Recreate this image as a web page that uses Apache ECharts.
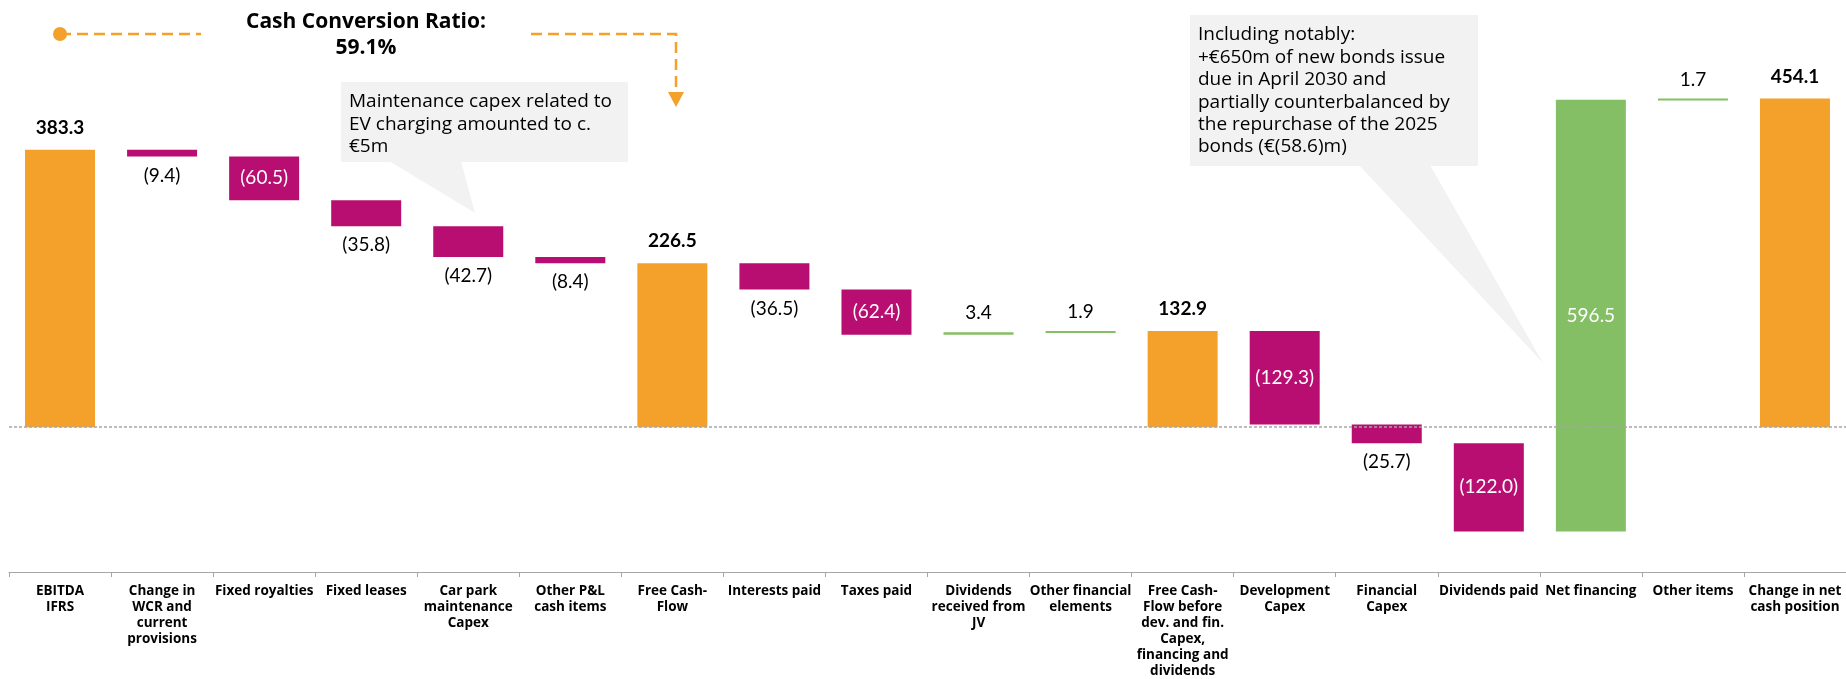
<!DOCTYPE html>
<html>
<head>
<meta charset="utf-8">
<title>Cash flow bridge</title>
<script src="https://cdn.jsdelivr.net/npm/echarts@6/dist/echarts.min.js"></script>
<style>
  html, body { margin: 0; padding: 0; background: #fff; }
  #chart { width: 1846px; height: 679px; }
</style>
</head>
<body>
<div id="chart"></div>
<script>
// categories (x axis)
const categories = [
  "EBITDA\nIFRS",
  "Change in\nWCR and\ncurrent\nprovisions",
  "Fixed royalties",
  "Fixed leases",
  "Car park\nmaintenance\nCapex",
  "Other P&L\ncash items",
  "Free Cash-\nFlow",
  "Interests paid",
  "Taxes paid",
  "Dividends\nreceived from\nJV",
  "Other financial\nelements",
  "Free Cash-\nFlow before\ndev. and fin.\nCapex,\nfinancing and\ndividends",
  "Development\nCapex",
  "Financial\nCapex",
  "Dividends paid",
  "Net financing",
  "Other items",
  "Change in net\ncash position"
];
// movement values (€m); totals are the subtotal levels
const values = [383.3, -9.4, -60.5, -35.8, -42.7, -8.4, 226.5, -36.5, -62.4, 3.4, 1.9, 132.9, -129.3, -25.7, -122.0, 596.5, 1.7, 454.1];
// which bars are subtotals (orange)
const totalIdx = [0, 6, 11, 17];

const ORANGE = "#F4A12B";
const MAGENTA = "#B90E71";
const GREEN = "#84BF65";
const NUM_FONT = "Lato";
const TXT_FONT = "Open Sans";

// build floating bars: [index, start, end, value, kind]
let running = 0;
const bars = values.map(function (v, i) {
  let lo, hi, kind;
  if (totalIdx.indexOf(i) >= 0) {
    lo = 0; hi = v; running = v; kind = 0;
  } else {
    lo = running; hi = running + v; running = hi; kind = v < 0 ? 1 : 2;
  }
  return [i, lo, hi, v, kind];
});

function fmt(v) {
  return v < 0 ? "(" + Math.abs(v).toFixed(1) + ")" : v.toFixed(1);
}

function renderItem(params, api) {
  const i = api.value(0);
  const lo = api.value(1);
  const hi = api.value(2);
  const v = api.value(3);
  const kind = api.value(4);
  const a = api.coord([i, Math.max(lo, hi)]);
  const b = api.coord([i, Math.min(lo, hi)]);
  const w = api.size([1, 0])[0] * 0.686;
  const color = kind === 0 ? ORANGE : (kind === 1 ? MAGENTA : GREEN);
  const top = a[1], bottom = b[1];

  // label placement
  let ty, fill = "#000", weight = "normal";
  if (kind === 0) {
    ty = top - 22; weight = "bold";
  } else if (Math.abs(v) >= 50) {
    ty = (top + bottom) / 2; fill = "#fff";
  } else if (v < 0) {
    ty = bottom + 19;
  } else {
    ty = top - 19;
  }

  return {
    type: "group",
    children: [
      {
        type: "rect",
        shape: { x: a[0] - w / 2, y: top, width: w, height: Math.max(bottom - top, 2) },
        style: { fill: color }
      },
      {
        type: "text",
        x: a[0],
        y: ty,
        style: {
          text: fmt(v),
          fill: fill,
          fontSize: 19,
          fontWeight: weight,
          fontFamily: NUM_FONT,
          align: "center",
          verticalAlign: "middle"
        }
      }
    ]
  };
}

const chart = echarts.init(document.getElementById("chart"));

chart.setOption({
  animation: false,
  grid: { left: 9, width: 1849, top: 0, bottom: 107 },
  xAxis: {
    type: "category",
    data: categories,
    axisLine: { onZero: false, lineStyle: { color: "#A6A6A6", width: 1 } },
    axisTick: { show: true, length: 5, lineStyle: { color: "#A6A6A6" } },
    axisLabel: {
      interval: 0,
      color: "#000",
      fontFamily: TXT_FONT,
      fontWeight: "bold",
      fontSize: 13.5,
      lineHeight: 16,
      margin: 11
    }
  },
  yAxis: {
    type: "value",
    min: -200,
    max: 590,
    show: false
  },
  series: [
    {
      type: "custom",
      renderItem: renderItem,
      data: bars,
      encode: { x: 0, y: [1, 2] },
      clip: false,
      markLine: {
        silent: true,
        symbol: "none",
        label: { show: false },
        lineStyle: { color: "#A6A6A6", type: [3, 2], width: 1.5 },
        data: [{ yAxis: 0 }]
      }
    }
  ],
  // annotations
  graphic: [
    { type: "circle", shape: { cx: 60, cy: 34, r: 7 }, style: { fill: ORANGE } },
    {
      type: "polyline",
      shape: { points: [[60, 34], [201, 34]] },
      style: { stroke: ORANGE, lineWidth: 2.5, lineDash: [11, 6], fill: null }
    },
    {
      type: "polyline",
      shape: { points: [[531, 34], [676, 34], [676, 93]] },
      style: { stroke: ORANGE, lineWidth: 2.5, lineDash: [11, 6], fill: null }
    },
    {
      type: "polygon",
      shape: { points: [[668, 92], [684, 92], [676, 107]] },
      style: { fill: ORANGE }
    },
    {
      type: "text",
      x: 366,
      y: 35,
      style: {
        text: "Cash Conversion Ratio:\n59.1%",
        fontSize: 21,
        fontWeight: "bold",
        fontFamily: TXT_FONT,
        lineHeight: 26,
        fill: "#000",
        align: "center",
        verticalAlign: "middle"
      }
    },
    // callout 1
    { type: "rect", shape: { x: 341, y: 82, width: 287, height: 80 }, style: { fill: "#F2F2F2" } },
    { type: "polygon", shape: { points: [[389, 161], [461, 161], [475, 213]] }, style: { fill: "#F2F2F2" } },
    {
      type: "text",
      x: 349,
      y: 90.5,
      style: {
        text: "Maintenance capex related to\nEV charging amounted to c.\n€5m",
        fontSize: 19,
        fontFamily: TXT_FONT,
        lineHeight: 22.5,
        fill: "#000",
        align: "left",
        verticalAlign: "top"
      }
    },
    // callout 2
    { type: "rect", shape: { x: 1190, y: 15, width: 288, height: 151 }, style: { fill: "#F2F2F2" } },
    { type: "polygon", shape: { points: [[1359, 165], [1430, 165], [1543, 363]] }, style: { fill: "#F2F2F2" } },
    {
      type: "text",
      x: 1198,
      y: 23.8,
      style: {
        text: "Including notably:\n+€650m of new bonds issue\ndue in April 2030 and\npartially counterbalanced by\nthe repurchase of the 2025\nbonds (€(58.6)m)",
        fontSize: 19,
        fontFamily: TXT_FONT,
        lineHeight: 22.4,
        fill: "#000",
        align: "left",
        verticalAlign: "top"
      }
    }
  ]
});
</script>
</body>
</html>
